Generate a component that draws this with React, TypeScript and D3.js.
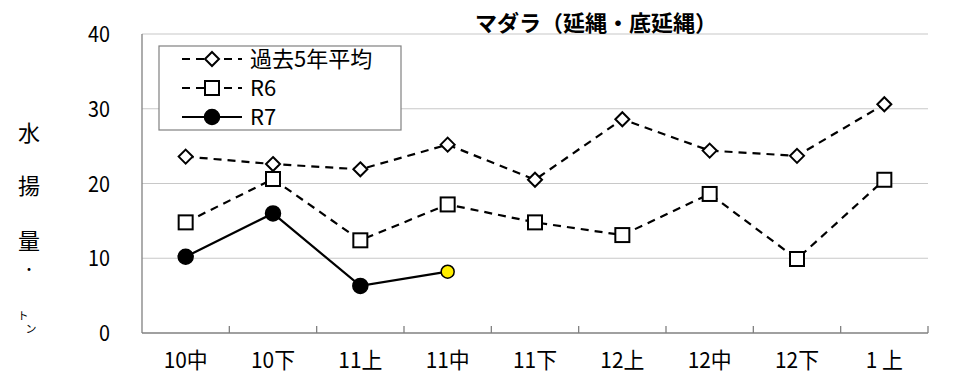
import { useEffect, useRef } from "react";
import * as d3 from "d3";

const categories = ["10中", "10下", "11上", "11中", "11下", "12上", "12中", "12下", "1 上"];
const avg5 = [23.6, 22.6, 21.9, 25.2, 20.5, 28.6, 24.4, 23.7, 30.6];
const r6 = [14.8, 20.6, 12.4, 17.2, 14.8, 13.1, 18.6, 9.9, 20.5];
const r7 = [10.2, 16.0, 6.3, 8.2];
const yTicks = [0, 10, 20, 30, 40];
const legendLabels = ["過去5年平均", "R6", "R7"];
const yTitle = ["水", "揚", "量"];

const W = 960;
const H = 374;
const PLOT = { left: 142, right: 928, top: 34, bottom: 333 };
const FONT = "'Noto Sans CJK JP', sans-serif";

export default function App() {
  const ref = useRef<SVGSVGElement>(null);

  useEffect(() => {
    if (!ref.current) return;
    const svg = d3.select(ref.current);
    svg.selectAll("*").remove();

    const x = d3.scaleBand<string>().domain(categories).range([PLOT.left, PLOT.right]);
    const y = d3.scaleLinear().domain([0, 40]).range([PLOT.bottom, PLOT.top]);
    const cx = (i: number) => (x(categories[i]) ?? 0) + x.bandwidth() / 2;

    // text helper, sq squeezes horizontally (the original digits are narrow)
    const label = (g: any, tx: number, ty: number, s: string, size: number, anchor = "start", sq = 1) =>
      g.append("text")
        .attr("transform", `translate(${tx},${ty}) scale(${sq},1)`)
        .attr("text-anchor", anchor)
        .attr("font-family", FONT)
        .attr("font-size", size)
        .attr("fill", "#000")
        .text(s);

    // gridlines
    svg.append("g")
      .selectAll("line")
      .data(yTicks.filter((t) => t > 0))
      .join("line")
      .attr("x1", PLOT.left)
      .attr("x2", PLOT.right)
      .attr("y1", (d) => y(d))
      .attr("y2", (d) => y(d))
      .attr("stroke", "#c8c8c8")
      .attr("stroke-width", 1.2);

    // y axis line + labels
    svg.append("line")
      .attr("x1", PLOT.left).attr("x2", PLOT.left)
      .attr("y1", PLOT.top).attr("y2", PLOT.bottom)
      .attr("stroke", "#808080").attr("stroke-width", 1.3);
    const yl = svg.append("g");
    yTicks.forEach((t) => label(yl, 110, y(t) + 8, String(t), 22, "end", 0.9));

    // x axis, ticks between categories pointing up
    const bounds = d3.range(categories.length + 1).map((i) => PLOT.left + i * x.bandwidth());
    svg.append("line")
      .attr("x1", PLOT.left).attr("x2", PLOT.right)
      .attr("y1", PLOT.bottom).attr("y2", PLOT.bottom)
      .attr("stroke", "#808080").attr("stroke-width", 1.3);
    svg.append("g")
      .selectAll("line")
      .data(bounds.slice(1))
      .join("line")
      .attr("x1", (d) => d).attr("x2", (d) => d)
      .attr("y1", PLOT.bottom).attr("y2", PLOT.bottom - 7)
      .attr("stroke", "#808080").attr("stroke-width", 1.3);
    const xl = svg.append("g");
    categories.forEach((c, i) => label(xl, cx(i), 368, c, 22, "middle", 0.95));

    // title
    svg.append("text")
      .attr("x", 596).attr("y", 31)
      .attr("text-anchor", "middle")
      .attr("font-family", FONT)
      .attr("font-weight", "bold")
      .attr("font-size", 22)
      .text("マダラ（延縄・底延縄）");

    // y title, stacked vertically
    const yt = svg.append("g");
    yTitle.forEach((s, i) => label(yt, 29, [141, 194, 249][i], s, 22, "middle"));
    label(yt, 29, 274, "・", 14, "middle");
    label(yt, 23, 320, "ト", 11, "middle");
    label(yt, 31, 333, "ン", 11, "middle");

    const line = d3.line<number>().x((_, i) => cx(i)).y((d) => y(d));
    const dash = "8,6";

    const diamond = (g: any, px: number, py: number) =>
      g.append("path")
        .attr("d", `M${px},${py - 7}L${px + 7},${py}L${px},${py + 7}L${px - 7},${py}Z`)
        .attr("fill", "#fff").attr("stroke", "#000").attr("stroke-width", 2);
    const square = (g: any, px: number, py: number) =>
      g.append("rect")
        .attr("x", px - 7).attr("y", py - 7).attr("width", 14).attr("height", 14)
        .attr("fill", "#fff").attr("stroke", "#000").attr("stroke-width", 2);
    const dot = (g: any, px: number, py: number, fill = "#000", r = 7.5) =>
      g.append("circle").attr("cx", px).attr("cy", py).attr("r", r)
        .attr("fill", fill).attr("stroke", "#000").attr("stroke-width", 1.5);

    // series
    const s1 = svg.append("g");
    s1.append("path").datum(avg5).attr("d", line).attr("fill", "none")
      .attr("stroke", "#000").attr("stroke-width", 2.2).attr("stroke-dasharray", dash);
    avg5.forEach((v, i) => diamond(s1, cx(i), y(v)));

    const s2 = svg.append("g");
    s2.append("path").datum(r6).attr("d", line).attr("fill", "none")
      .attr("stroke", "#000").attr("stroke-width", 2.2).attr("stroke-dasharray", dash);
    r6.forEach((v, i) => square(s2, cx(i), y(v)));

    const s3 = svg.append("g");
    s3.append("path").datum(r7).attr("d", line).attr("fill", "none")
      .attr("stroke", "#000").attr("stroke-width", 2.2);
    r7.forEach((v, i) =>
      i === r7.length - 1 ? dot(s3, cx(i), y(v), "#ffee00", 6.5) : dot(s3, cx(i), y(v)));

    // legend
    const lg = svg.append("g");
    lg.append("rect").attr("x", 159).attr("y", 46).attr("width", 242).attr("height", 84)
      .attr("fill", "#fff").attr("stroke", "#808080").attr("stroke-width", 1.2);
    const rows = [59, 88, 117];
    rows.forEach((ry, i) => {
      lg.append("line").attr("x1", 182).attr("x2", 242).attr("y1", ry).attr("y2", ry)
        .attr("stroke", "#000").attr("stroke-width", 2.2)
        .attr("stroke-dasharray", i < 2 ? dash : null);
      if (i === 0) diamond(lg, 212, ry);
      else if (i === 1) square(lg, 212, ry);
      else dot(lg, 212, ry);
      label(lg, 250, ry + 8, legendLabels[i], 22);
    });
  }, []);

  return (
    <svg
      ref={ref}
      width={W}
      height={H}
      style={{ position: "absolute", left: 0, top: 0, background: "#fff" }}
    />
  );
}
